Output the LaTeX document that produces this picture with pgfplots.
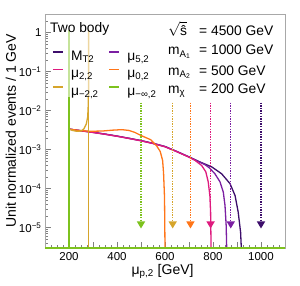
\documentclass[border=0pt]{standalone}
\usepackage{fontspec}
\setmainfont{Liberation Sans}
\usepackage{pgfplots}
\pgfplotsset{compat=1.18}
\usetikzlibrary{arrows.meta}
\definecolor{cdark}{HTML}{3D0E6B}
\definecolor{cpurp}{HTML}{7B1FA2}
\definecolor{cmag}{HTML}{DE1A7E}
\definecolor{corange}{HTML}{FF7518}
\definecolor{cgold}{HTML}{D6A52B}
\definecolor{cgreen}{HTML}{7DC21E}
\definecolor{cframe}{HTML}{A8A8A8}
\newcommand{\legfont}{\fontsize{13.8}{16}\selectfont}
\begin{document}
\begin{tikzpicture}
\path[use as bounding box] (-45pt,-37pt) rectangle (255pt,248pt);
\begin{axis}[
  at={(0,0)}, anchor=south west,
  scale only axis, width=240pt, height=234pt,
  xmin=100, xmax=1100, ymode=log, ymin=3e-6, ymax=3,
  clip=false,
  axis line style={cframe, line width=0.8pt},
  xtick={100,200,...,1100},
  xticklabels={,200,,400,,600,,800,,1000,},
  minor x tick num=3,
  ytick={1e-5,1e-4,1e-3,1e-2,1e-1,1},
  yticklabels={10\textsuperscript{−5},10\textsuperscript{−4},10\textsuperscript{−3},10\textsuperscript{−2},10\textsuperscript{−1},1},
  minor ytick={3e-6,4e-6,5e-6,6e-6,7e-6,8e-6,9e-6,2e-5,3e-5,4e-5,5e-5,6e-5,7e-5,8e-5,9e-5,2e-4,3e-4,4e-4,5e-4,6e-4,7e-4,8e-4,9e-4,2e-3,3e-3,4e-3,5e-3,6e-3,7e-3,8e-3,9e-3,2e-2,3e-2,4e-2,5e-2,6e-2,7e-2,8e-2,9e-2,0.2,0.3,0.4,0.5,0.6,0.7,0.8,0.9,2,3},
  tick align=inside,
  xtick pos=bottom, ytick pos=left,
  major tick length=6pt, minor tick length=3.5pt,
  every tick/.style={gray, line width=0.6pt},
  ticklabel style={font=\fontsize{11.5}{13}\selectfont},
  xticklabel style={yshift=-1pt},
  xlabel={μ\textsubscript{p,2} [GeV]},
  ylabel={Unit normalized events / 1 GeV},
  label style={font=\fontsize{14}{16}\selectfont},
  xlabel style={at={(axis description cs:0.49,0)}, anchor=base, yshift=-26pt},
  ylabel style={at={(axis description cs:-0.1417,0.5)}, anchor=center},
  legend columns=2,
  legend cell align=left,
  legend image code/.code={\draw[#1,line width=1.4pt] (0pt,5pt) -- (10pt,5pt);},
  legend style={at={(axis description cs:0.029,0.847)}, anchor=north west,
    draw=none, fill=none, inner sep=0pt, row sep=3.5pt,
    font=\legfont,
    nodes={inner sep=0pt, text height=10pt, text depth=4pt},
    /tikz/every even column/.append style={column sep=10pt},
    /tikz/every odd column/.append style={column sep=7.5pt}},
]
% M_T2
\addplot[cdark, line width=1.3pt] coordinates {
(200,3e-6) (200,3.36e-3) (250,3.05e-3) (300,2.78e-3) (350,2.5e-3) (400,2.22e-3) (450,1.95e-3) (500,1.7e-3) (550,1.45e-3) (600,1.2e-3) (650,8.9e-4) (700,6.5e-4) (750,4.7e-4) (795,3.6e-4) (836,2.4e-4) (871,1.34e-4) (892,6.6e-5) (905,2.5e-5) (915,7.6e-6) (918,3e-6)};
\addlegendentry{M\textsubscript{T2}}
% mu 5,2
\addplot[cpurp, line width=1.3pt] coordinates {
(200,3e-6) (200,3.36e-3) (250,3.05e-3) (300,2.78e-3) (350,2.5e-3) (400,2.22e-3) (450,1.95e-3) (500,1.7e-3) (550,1.45e-3) (600,1.2e-3) (650,8.9e-4) (700,6.5e-4) (740,4.9e-4) (767,4.1e-4) (785,3.4e-4) (808,2.4e-4) (829,1.5e-4) (843,8.1e-5) (850,3.7e-5) (855,1.1e-5) (857,3e-6)};
\addlegendentry{μ\textsubscript{5,2}}
% mu 2,2
\addplot[cmag, line width=1.3pt] coordinates {
(200,3e-6) (200,3.36e-3) (250,3.03e-3) (300,2.75e-3) (350,2.47e-3) (400,2.2e-3) (450,1.93e-3) (500,1.68e-3) (550,1.43e-3) (600,1.18e-3) (650,8.8e-4) (700,6.4e-4) (725,5.3e-4) (753,3.9e-4) (770,2.7e-4) (780,1.5e-4) (787,6.6e-5) (790,2.5e-5) (792,3e-6)};
\addlegendentry{μ\textsubscript{2,2}}
% mu 0,2
\addplot[corange, line width=1.3pt] coordinates {
(200,3e-6) (200,3.36e-3) (240,3.1e-3) (290,2.95e-3) (340,3.0e-3) (380,3.15e-3) (420,3.25e-3) (450,3.1e-3) (475,2.75e-3) (500,2.3e-3) (540,1.8e-3) (565,1.25e-3) (580,9e-4) (590,5.3e-4) (594,2.5e-4) (598,6e-5) (600,3e-6)};
\addlegendentry{μ\textsubscript{0,2}}
% mu -2,2 (part below the legend box)
\addplot[cgold, line width=1.3pt] coordinates {
(200,3e-6) (200,3.36e-3) (215,3.1e-3) (232,2.95e-3) (250,3.0e-3) (262,3.4e-3) (272,4.5e-3) (278,7e-3) (280,1.3e-2) (280.6,2.24e-2)};
\addlegendentry{μ\textsubscript{−2,2}}
% mu -inf,2 (part below the legend box)
\addplot[cgreen, line width=1.3pt] coordinates {(200,3e-6) (200,2.24e-2)};
\addlegendentry{μ\textsubscript{−∞,2}}
% parts behind the translucent legend box
\addplot[cgold!45, line width=1.3pt, forget plot] coordinates {(280.6,2.24e-2) (281,3e-2) (281.5,1.15) (282.5,1.15) (282.5,2.24e-2)};
\addplot[cgold, line width=1.3pt, forget plot] coordinates {(282.5,2.24e-2) (282.5,3e-6)};
\addplot[cgreen!45, line width=1.3pt, forget plot] coordinates {(200,2.24e-2) (200,1.15)};
\addplot[cgreen, line width=2pt, forget plot] coordinates {(100,3e-6) (1100,3e-6)};
% endpoint arrows
\pgfplotsset{arr/.style={line width=1.2pt, dash pattern=on 1.3pt off 1.3pt, -{Triangle[width=8pt,length=7pt]}, forget plot}}
\addplot[cgreen, arr] coordinates {(500,1.6e-2) (500,9.5e-6)};
\addplot[cgold, arr] coordinates {(632,1.6e-2) (632,9.5e-6)};
\addplot[corange, arr] coordinates {(706,1.6e-2) (706,9.5e-6)};
\addplot[cmag, arr] coordinates {(790,1.6e-2) (790,9.5e-6)};
\addplot[cpurp, arr] coordinates {(874,1.6e-2) (874,9.5e-6)};
\addplot[cdark, arr] coordinates {(1000,1.6e-2) (1000,9.5e-6)};
\node[anchor=base west, inner sep=0pt, font=\legfont] at (axis description cs:0.0208,0.919) {Two body};
\node[anchor=base west, inner sep=0pt, font=\legfont] at (axis description cs:0.5125,0.910) {$\sqrt{\mbox{ŝ}}$};
\node[anchor=base west, inner sep=0pt, font=\legfont] at (axis description cs:0.6417,0.910) {= 4500 GeV};
\node[anchor=base west, inner sep=0pt, font=\legfont] at (axis description cs:0.5125,0.825) {m\textsubscript{A\textsubscript{1}}};
\node[anchor=base west, inner sep=0pt, font=\legfont] at (axis description cs:0.6417,0.825) {= 1000 GeV};
\node[anchor=base west, inner sep=0pt, font=\legfont] at (axis description cs:0.5125,0.739) {m\textsubscript{A\textsubscript{2}}};
\node[anchor=base west, inner sep=0pt, font=\legfont] at (axis description cs:0.6417,0.739) {= 500 GeV};
\node[anchor=base west, inner sep=0pt, font=\legfont] at (axis description cs:0.5125,0.662) {m\textsubscript{χ}};
\node[anchor=base west, inner sep=0pt, font=\legfont] at (axis description cs:0.6417,0.662) {= 200 GeV};
\end{axis}
\end{tikzpicture}
\end{document}
